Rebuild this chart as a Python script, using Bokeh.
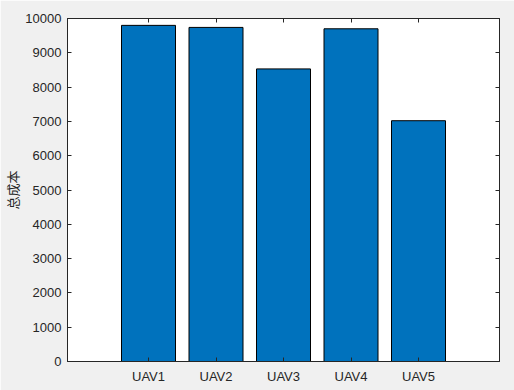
from bokeh.plotting import figure
from bokeh.models import Range1d, FixedTicker, LinearAxis, ColumnDataSource
from bokeh.embed import file_html
from bokeh.resources import INLINE

categories = ["UAV1", "UAV2", "UAV3", "UAV4", "UAV5"]
positions = [1, 2, 3, 4, 5]
total_cost = [9800, 9740, 8530, 9700, 7020]
y_ticks = [0, 1000, 2000, 3000, 4000, 5000, 6000, 7000, 8000, 9000, 10000]
y_label = "总成本"

AX = "#262626"
BG = "#f0f0f0"

p = figure(width=514, height=390, output_backend="svg", toolbar_location=None,
           x_range=Range1d(-0.2, 6.2), y_range=Range1d(0, 10000),
           min_border_left=67, min_border_right=15, min_border_top=18, min_border_bottom=29)
p.background_fill_color = "white"
p.border_fill_color = BG
p.outline_line_color = AX
p.outline_line_width = 1
p.grid.visible = False

src = ColumnDataSource(dict(x=positions, top=total_cost))
p.vbar(x="x", top="top", width=0.8, bottom=0, source=src,
       fill_color="#0072BD", line_color="black", line_width=1)

def style(ax, labels=True):
    ax.axis_line_color = AX
    ax.major_tick_line_color = AX
    ax.major_tick_in = 4
    ax.major_tick_out = 0
    ax.minor_tick_line_color = None
    ax.major_label_text_color = AX
    ax.major_label_text_font = "Liberation Sans"
    ax.major_label_text_font_size = "13px"
    if labels:
        ax.major_label_standoff = 6
    else:
        ax.major_label_standoff = 0

xa = p.xaxis[0]
xa.ticker = FixedTicker(ticks=positions)
xa.major_label_overrides = {pos: c for pos, c in zip(positions, categories)}
style(xa)
xa.major_label_standoff = 7

ya = p.yaxis[0]
ya.ticker = FixedTicker(ticks=y_ticks)
style(ya)
ya.axis_label = y_label
ya.axis_label_text_font = "Noto Sans CJK SC"
ya.axis_label_text_font_style = "normal"
ya.axis_label_text_font_size = "13px"
ya.axis_label_text_color = AX
ya.axis_label_standoff = 0

ra = LinearAxis(ticker=FixedTicker(ticks=y_ticks))
style(ra, labels=False)
ra.major_label_overrides = {t: "" for t in y_ticks}
p.add_layout(ra, "right")

ta = LinearAxis(ticker=FixedTicker(ticks=positions))
style(ta, labels=False)
ta.major_label_overrides = {t: "" for t in positions}
p.add_layout(ta, "above")

open("out.html", "w").write(file_html(p, INLINE))
